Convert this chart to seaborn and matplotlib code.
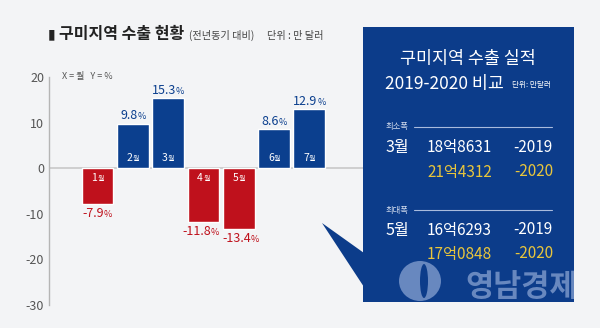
import matplotlib
matplotlib.use("Agg")
import matplotlib.pyplot as plt
import seaborn as sns
import pandas as pd
from matplotlib.offsetbox import TextArea, HPacker, AnnotationBbox
from matplotlib.patches import Rectangle, Polygon, Ellipse

# ---- data ----
months = ["1월", "2월", "3월", "4월", "5월", "6월", "7월"]
month_nums = ["1", "2", "3", "4", "5", "6", "7"]
values = [-7.9, 9.8, 15.3, -11.8, -13.4, 8.6, 12.9]
yticks = [20, 10, 0, -10, -20, -30]

box_title1 = "구미지역 수출 실적"
box_title2 = "2019-2020 비교"
box_unit = "단위: 만달러"
sec_labels = ["최소폭", "최대폭"]
sec_months = ["3월", "5월"]
amount_2019 = ["18억8631", "16억6293"]
amount_2020 = ["21억4312", "17억0848"]

BLUE = "#0b3f8e"
RED = "#bf111c"
BOX = "#0c3c8a"
YELLOW = "#e8c53c"
BG = "#f3f4f6"

sns.set_style("white")
plt.rcParams["font.family"] = ["Noto Sans CJK KR", "DejaVu Sans"]
plt.rcParams["axes.unicode_minus"] = False

W, H = 600, 328
def fx(px): return px / W
def fy(py): return 1 - py / H

fig = plt.figure(figsize=(6, 3.28), dpi=100, facecolor=BG)
ax = fig.add_axes([fx(49), fy(305), fx(363) - fx(49), fy(77) - fy(305)])
ax.set_facecolor(BG)

df = pd.DataFrame({"month": months, "value": values,
                   "sign": ["pos" if v > 0 else "neg" for v in values]})
sns.barplot(data=df, x="month", y="value", hue="sign",
            palette={"pos": BLUE, "neg": RED}, dodge=False, width=0.9,
            legend=False, ax=ax, saturation=1, zorder=3)
ax.axhline(0, color="#cccccc", lw=1.3, zorder=2)

ax.set_ylim(-30, 20)
ax.set_xlim(-1.374, 7.52)
ax.set_yticks(yticks)
ax.set_yticklabels([str(t) for t in yticks])
ax.set_xticks([])
ax.set_xlabel("")
ax.set_ylabel("")
for s in ["top", "right", "bottom"]:
    ax.spines[s].set_visible(False)
ax.spines["left"].set_color("#b5b5b5")
ax.spines["left"].set_linewidth(1)
ax.tick_params(axis="y", direction="in", length=4, color="#b5b5b5",
               labelcolor="#555555", labelsize=9, pad=3.6, width=1)

# value labels
for i, v in enumerate(values):
    col = BLUE if v > 0 else RED
    # nudge adjacent negative labels apart slightly so they do not collide
    xoff = 0
    if v < 0 and i + 1 < len(values) and values[i + 1] < 0:
        xoff = -1.8
    elif v < 0 and i > 0 and values[i - 1] < 0:
        xoff = 1.5
    num = TextArea(f"{v:.1f}", textprops=dict(color=col, fontsize=9))
    pct = TextArea("%", textprops=dict(color=col, fontsize=6.5))
    pk = HPacker(children=[num, pct], align="baseline", pad=0, sep=0)
    ab = AnnotationBbox(pk, (i, v), xybox=(xoff, 1 if v > 0 else -2),
                        xycoords="data", boxcoords="offset points",
                        box_alignment=(0.5, 0 if v > 0 else 1),
                        frameon=False, pad=0, annotation_clip=False)
    ax.add_artist(ab)
    # month labels inside bars
    n = TextArea(month_nums[i], textprops=dict(color="white", fontsize=7.5))
    m = TextArea("월", textprops=dict(color="white", fontsize=5))
    pk2 = HPacker(children=[n, m], align="baseline", pad=0, sep=0)
    ab2 = AnnotationBbox(pk2, (i, 0), xybox=(0, 7.2 if v > 0 else -7.2),
                         xycoords="data", boxcoords="offset points",
                         box_alignment=(0.5, 0.5), frameon=False, pad=0,
                         annotation_clip=False, zorder=5)
    ax.add_artist(ab2)

fig.text(fx(62), fy(76), "X = 월   Y = %", fontsize=6.5, color="#555555",
         va="center", ha="left")

# title
fig.text(fx(48), fy(34), "▮", family="DejaVu Sans", fontsize=10,
         color="#222222", va="center", ha="left")
fig.text(fx(59), fy(34), "구미지역 수출 현황", fontsize=11.5, fontweight="bold",
         color="#222222", va="center", ha="left")
fig.text(fx(189), fy(35.5), "(전년동기 대비)", fontsize=7.3, color="#444444",
         va="center", ha="left")
fig.text(fx(267), fy(35.5), "단위 : 만 달러", fontsize=7.3, color="#444444",
         va="center", ha="left")

# right info box
box = Rectangle((fx(363), fy(302)), fx(574) - fx(363), fy(27) - fy(302),
                transform=fig.transFigure, facecolor=BOX, edgecolor="none",
                zorder=10)
fig.add_artist(box)
tri = Polygon([(fx(322), fy(223)), (fx(364), fy(253)), (fx(364), fy(287))],
              closed=True, transform=fig.transFigure, facecolor=BOX,
              edgecolor="none", zorder=10)
fig.add_artist(tri)

# watermark logo
e1 = Ellipse((fx(420), fy(281)), fx(42), 40 / H, transform=fig.transFigure,
             facecolor="#7391c6", edgecolor="none", zorder=11, alpha=0.9)
fig.add_artist(e1)
e2 = Ellipse((fx(424), fy(281)), fx(8), 34 / H, transform=fig.transFigure,
             facecolor=BOX, edgecolor="none", zorder=12)
fig.add_artist(e2)
wm = fig.text(fx(465), fy(287), "영남경제", fontsize=22, fontweight="bold",
              color="#7391c6", va="center", ha="left", zorder=11, alpha=0.9)
wm.set_clip_path(box)

fig.text(fx(468), fy(59), box_title1, fontsize=12.5, color="white",
         ha="center", va="center", zorder=12)
fig.text(fx(385), fy(83.5), box_title2, fontsize=12.5, color="white",
         ha="left", va="center", zorder=12)
fig.text(fx(512), fy(85), box_unit, fontsize=5.5, color="white",
         ha="left", va="center", zorder=12)

sec_y = [127, 210]
row1_y = [147.5, 230]
row2_y = [172, 254]
for k in range(2):
    fig.text(fx(386), fy(sec_y[k]), sec_labels[k], fontsize=6, color="#d5deef",
             ha="left", va="center", zorder=12)
    fig.add_artist(plt.Line2D([fx(414), fx(552)], [fy(sec_y[k])] * 2,
                              transform=fig.transFigure, color="#a9bbdd",
                              lw=0.8, zorder=12))
    fig.text(fx(386), fy(row1_y[k]), sec_months[k], fontsize=11.5,
             color="white", ha="left", va="center", zorder=12)
    fig.text(fx(427), fy(row1_y[k]), amount_2019[k], fontsize=11,
             color="white", ha="left", va="center", zorder=12)
    fig.text(fx(553), fy(row1_y[k]), "-2019", fontsize=11,
             color="white", ha="right", va="center", zorder=12)
    fig.text(fx(427), fy(row2_y[k]), amount_2020[k], fontsize=11,
             color=YELLOW, ha="left", va="center", zorder=12)
    fig.text(fx(553), fy(row2_y[k]), "-2020", fontsize=11,
             color=YELLOW, ha="right", va="center", zorder=12)

fig.savefig("out.png", dpi=100, facecolor=BG)
